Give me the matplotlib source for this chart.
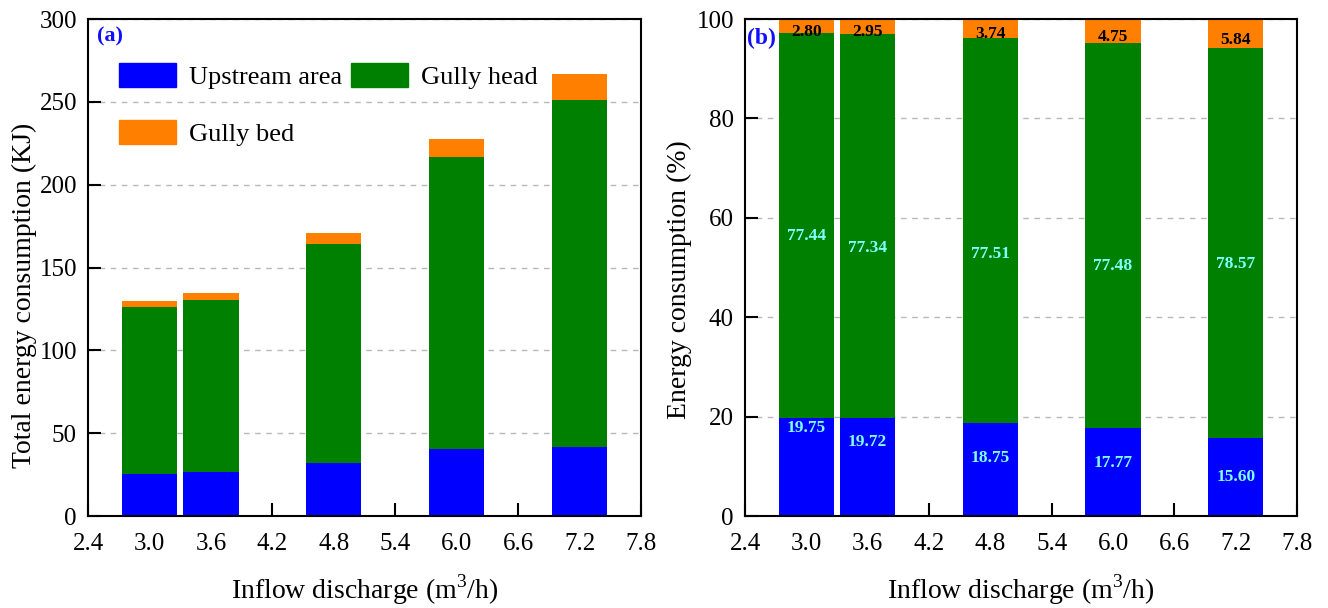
import numpy as np
import matplotlib
matplotlib.use('Agg')
import matplotlib.pyplot as plt
from matplotlib.patches import Patch

plt.rcParams['font.family'] = ['Liberation Serif', 'DejaVu Serif']
plt.rcParams['mathtext.fontset'] = 'custom'
plt.rcParams['mathtext.rm'] = 'Liberation Serif'

# data
discharge = [3.0, 3.6, 4.8, 6.0, 7.2]
upstream_kj = [25.6, 26.5, 32.0, 40.4, 41.6]
head_kj = [100.4, 104.1, 132.2, 176.3, 209.5]
bed_kj = [3.6, 4.0, 6.4, 10.8, 15.6]

upstream_pct = [19.75, 19.72, 18.75, 17.77, 15.60]
head_pct = [77.44, 77.34, 77.51, 77.48, 78.57]
bed_pct = [2.80, 2.95, 3.74, 4.75, 5.84]

# hand-placed label heights in panel (b)
up_lab_y = [17.7, 14.9, 11.7, 10.6, 7.8]
head_lab_y = [56.3, 53.9, 52.7, 50.4, 50.8]

c_up = '#0000ff'
c_head = '#008000'
c_bed = '#ff8000'
width = 0.54

fig = plt.figure(figsize=(13.28, 6.08), dpi=100)
ax1 = fig.add_axes([0.0663, 0.1513, 0.4164, 0.8174])
ax2 = fig.add_axes([0.561, 0.1513, 0.4157, 0.8174])

x = np.array(discharge)

# panel (a)
up = np.array(upstream_kj)
hd = np.array(head_kj)
bd = np.array(bed_kj)
ax1.bar(x, up, width, color=c_up, zorder=2)
ax1.bar(x, hd, width, bottom=up, color=c_head, zorder=2)
ax1.bar(x, bd, width, bottom=up + hd, color=c_bed, zorder=2)
ax1.set_ylim(0, 300)
ax1.set_yticks(np.arange(0, 301, 50))
ax1.set_ylabel('Total energy consumption (KJ)', fontsize=20)
ax1.yaxis.set_label_coords(-0.092, 0.443)
ax1.text(0.016, 0.984, '(a)', transform=ax1.transAxes, color='#1010ff',
         fontsize=16, fontweight='bold', va='top', ha='left')
handles = [Patch(color=c_up, label='Upstream area'),
           Patch(color=c_bed, label='Gully bed'),
           Patch(color=c_head, label='Gully head')]
ax1.legend(handles=handles, ncol=2, frameon=False, fontsize=19,
           loc='upper left', bbox_to_anchor=(0.056, 0.912),
           handlelength=2.15, handleheight=1.02, handletextpad=0.5,
           columnspacing=0.34, labelspacing=1.18, borderaxespad=0, borderpad=0)

# panel (b)
up_p = np.array(upstream_pct)
hd_p = np.array(head_pct)
bd_p = np.array(bed_pct)
ax2.bar(x, up_p, width, color=c_up, zorder=2)
ax2.bar(x, hd_p, width, bottom=up_p, color=c_head, zorder=2)
ax2.bar(x, bd_p, width, bottom=up_p + hd_p, color=c_bed, zorder=2)
ax2.set_ylim(0, 100)
ax2.set_yticks(np.arange(0, 101, 20))
ax2.set_ylabel('Energy consumption (%)', fontsize=20)
ax2.yaxis.set_label_coords(-0.096, 0.475)
ax2.text(0.004, 0.982, '(b)', transform=ax2.transAxes, color='#1010ff',
         fontsize=17, fontweight='bold', va='top', ha='left')
for i in range(len(x)):
    ax2.text(x[i], up_lab_y[i], '%.2f' % upstream_pct[i], color='#80ffff',
             fontsize=12.5, fontweight='bold', ha='center', va='center', zorder=3)
    ax2.text(x[i], head_lab_y[i], '%.2f' % head_pct[i], color='#80ffff',
             fontsize=12.5, fontweight='bold', ha='center', va='center', zorder=3)
    ax2.text(x[i], 100 - bed_pct[i] / 2 - 1.2, '%.2f' % bed_pct[i], color='black',
             fontsize=12.5, fontweight='bold', ha='center', va='center', zorder=3)

for ax in (ax1, ax2):
    ax.set_xlim(2.4, 7.8)
    ax.set_xticks(np.arange(2.4, 7.81, 0.6))
    ax.set_xticklabels(['%.1f' % v for v in np.arange(2.4, 7.81, 0.6)])
    ax.set_xlabel('Inflow discharge (m$^3$/h)', fontsize=20, labelpad=13)
    ax.tick_params(direction='in', length=9.5, width=1.5, labelsize=18, pad=12)
    ax.tick_params(axis='y', pad=8)
    ax.yaxis.grid(True, linestyle=(0, (4, 4)), color='#b8b8b8', linewidth=1, zorder=0)
    ax.set_axisbelow(True)
    for s in ax.spines.values():
        s.set_linewidth(1.5)

fig.savefig('out.png', dpi=100)
